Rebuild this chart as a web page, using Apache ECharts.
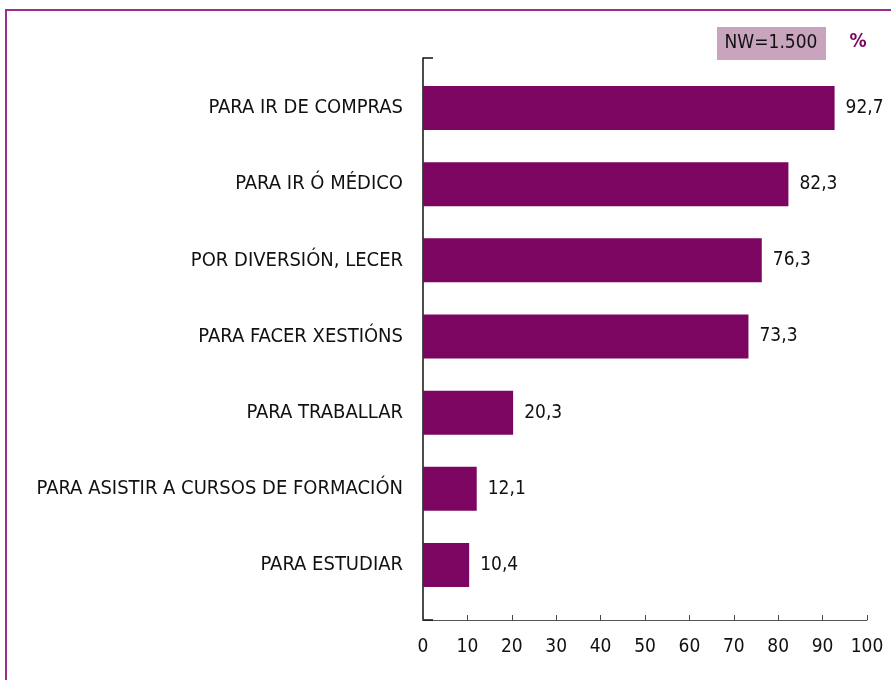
<!DOCTYPE html>
<html lang="gl">
<head>
  <meta charset="UTF-8">
  <title>Motivos</title>
  <style>
    body { margin: 0; background: #fff; }
    #main { width: 891px; height: 680px; }
  </style>
</head>
<body>
  <div id="main"></div>
  <script src="https://cdn.jsdelivr.net/npm/echarts@6/dist/echarts.min.js"></script>
  <script>
    // datos
    var categories = [
      'PARA IR DE COMPRAS',
      'PARA IR Ó MÉDICO',
      'POR DIVERSIÓN, LECER',
      'PARA FACER XESTIÓNS',
      'PARA TRABALLAR',
      'PARA ASISTIR A CURSOS DE FORMACIÓN',
      'PARA ESTUDIAR'
    ];
    var values = [92.7, 82.3, 76.3, 73.3, 20.3, 12.1, 10.4];
    var xTicks = [0, 10, 20, 30, 40, 50, 60, 70, 80, 90, 100];

    var font = "'DejaVu Sans Condensed', 'Liberation Sans Narrow', Roboto, sans-serif";
    var barColor = '#7b0560';

    var chart = echarts.init(document.getElementById('main'));

    var option = {
      animation: false,
      textStyle: { fontFamily: font },
      grid: [
        // barras
        { left: 423, right: 24, top: 70, bottom: 77 },
        // ejes
        { left: 423, right: 24, top: 58, bottom: 60 }
      ],
      xAxis: [
        { gridIndex: 0, type: 'value', min: 0, max: 100, show: false },
        {
          gridIndex: 1,
          type: 'value',
          min: xTicks[0],
          max: xTicks[xTicks.length - 1],
          interval: 10,
          axisLine: { show: true, lineStyle: { color: '#555', width: 1 } },
          axisTick: { show: true, inside: true, length: 5, lineStyle: { color: '#444' } },
          axisLabel: { color: '#111', fontSize: 19, margin: 18, fontFamily: font },
          splitLine: { show: false }
        }
      ],
      yAxis: [
        {
          gridIndex: 0,
          type: 'category',
          inverse: true,
          data: categories,
          axisLine: { show: false },
          axisTick: { show: false },
          axisLabel: { color: '#111', fontSize: 20, margin: 20, fontFamily: font },
          splitLine: { show: false }
        },
        {
          gridIndex: 1,
          type: 'value',
          min: 0,
          max: 1,
          axisLine: { show: true, lineStyle: { color: '#111', width: 1.5 } },
          axisTick: {
            show: true, inside: true, length: 10,
            customValues: [0, 1],
            lineStyle: { color: '#111', width: 1.5 }
          },
          axisLabel: { show: false },
          splitLine: { show: false }
        }
      ],
      series: [{
        type: 'bar',
        xAxisIndex: 0,
        yAxisIndex: 0,
        barWidth: 44,
        itemStyle: { color: barColor },
        data: values,
        label: {
          show: true,
          position: 'right',
          distance: 11,
          color: '#111',
          fontSize: 19,
          fontFamily: font,
          formatter: function (p) { return p.value.toFixed(1).replace('.', ','); }
        }
      }],
      graphic: [
        {
          type: 'rect',
          shape: { x: 6, y: 10, width: 920, height: 720 },
          style: { fill: 'none', stroke: '#9a2e8a', lineWidth: 2 },
          silent: true
        },
        {
          type: 'rect',
          shape: { x: 717, y: 27, width: 109, height: 33 },
          style: { fill: '#c9a4bd' }
        },
        {
          type: 'text',
          x: 771, y: 43,
          style: {
            text: 'NW=1.500', fill: '#111', fontSize: 19, fontFamily: font,
            align: 'center', verticalAlign: 'middle'
          }
        },
        {
          type: 'text',
          x: 858, y: 42,
          style: {
            text: '%', fill: barColor, fontSize: 19, fontWeight: 'bold', fontFamily: font,
            align: 'center', verticalAlign: 'middle'
          }
        }
      ]
    };

    chart.setOption(option);
  </script>
</body>
</html>
